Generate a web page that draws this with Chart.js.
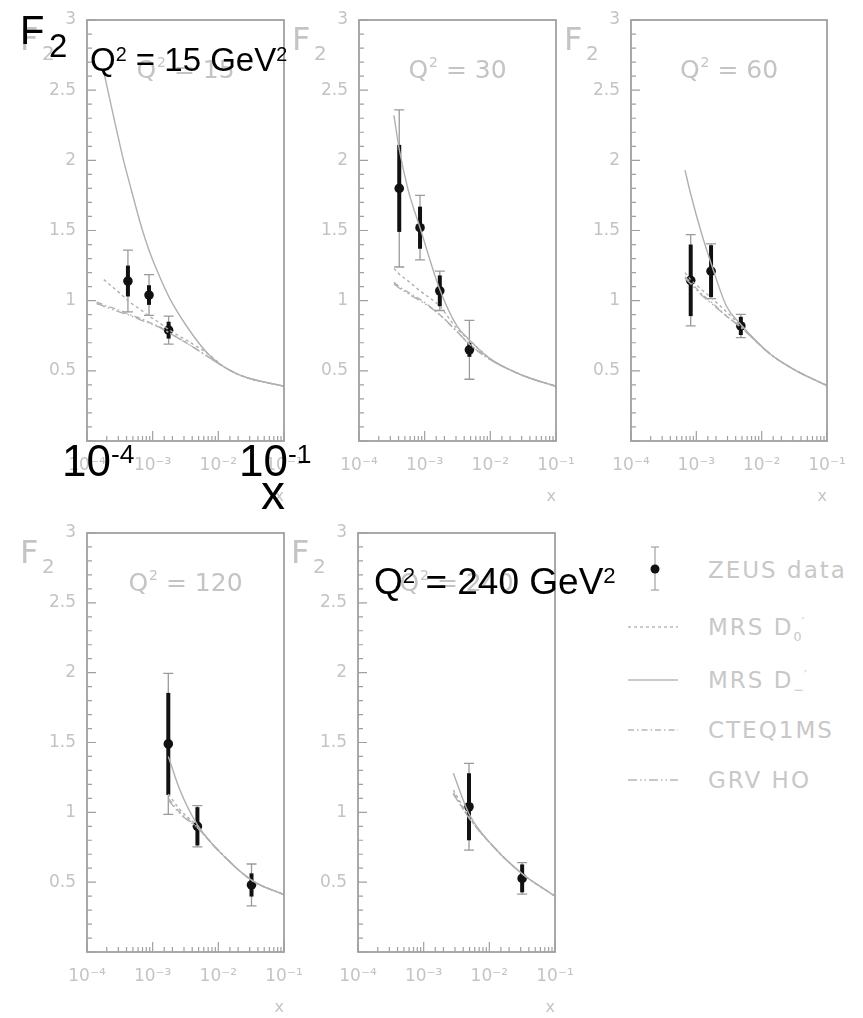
<!DOCTYPE html>
<html>
<head>
<meta charset="utf-8">
<script src="https://cdn.jsdelivr.net/npm/chart.js@4.4.0/dist/chart.umd.min.js"></script>
<style>
  body { margin: 0; width: 863px; height: 1018px; position: relative; overflow: hidden; background: #fff; }
  canvas { position: absolute; }
  .big { position: absolute; line-height: 1; color: #000; white-space: nowrap; font-family: "Liberation Sans", Arial, sans-serif; }
  .big .sup { font-size: 0.6em; position: relative; top: -0.5em; }
  .leg { position: absolute; left: 708px; line-height: 1; white-space: nowrap; color: #c8c8c8;
         font-family: "DejaVu Sans", sans-serif; font-size: 23px; letter-spacing: 2px; }
  .leg sub, .leg sup { font-size: 0.55em; letter-spacing: 0; }
</style>
</head>
<body>

<!-- key for the fits -->
<svg style="position:absolute;left:0;top:0" width="863" height="1018">
  <g stroke="#a8a8a8" stroke-width="1.3">
    <line x1="655" y1="547" x2="655" y2="590"/>
    <line x1="651" y1="547" x2="659" y2="547"/>
    <line x1="651" y1="590" x2="659" y2="590"/>
  </g>
  <circle cx="655" cy="569" r="4.5" fill="#111"/>
  <g stroke="#b8b8b8" stroke-width="1.5" fill="none">
    <line x1="628" y1="627" x2="678" y2="627" stroke-dasharray="3,3"/>
    <line x1="628" y1="680" x2="678" y2="680"/>
    <line x1="628" y1="730" x2="678" y2="730" stroke-dasharray="6,3,1.5,3"/>
    <line x1="628" y1="780" x2="678" y2="780" stroke-dasharray="9,3,1.5,3,1.5,3"/>
  </g>
</svg>
<div class="leg" style="top:559px">ZEUS data</div>
<div class="leg" style="top:616px">MRS D<sub>0</sub><sup>′</sup></div>
<div class="leg" style="top:669px">MRS D<sub>−</sub><sup>′</sup></div>
<div class="leg" style="top:719px">CTEQ1MS</div>
<div class="leg" style="top:769px">GRV HO</div>

<script>
// F2 against x in five Q2 bins, ZEUS points with fit curves

const Q2_BINS = [15, 30, 60, 120, 240];

// ZEUS points: x, F2, inner (stat) and outer (total) half errors
const x15 = [4.2e-4, 8.8e-4, 1.75e-3];
const f2_15 = [1.14, 1.04, 0.79];
const stat15 = [0.11, 0.07, 0.06];
const tot15 = [0.22, 0.145, 0.10];

const x30 = [4.1e-4, 8.5e-4, 1.7e-3, 4.8e-3];
const f2_30 = [1.80, 1.52, 1.07, 0.65];
const stat30 = [0.31, 0.15, 0.11, 0.05];
const tot30 = [0.56, 0.23, 0.14, 0.21];

const x60 = [8.2e-4, 1.68e-3, 4.8e-3];
const f2_60 = [1.145, 1.21, 0.82];
const stat60 = [0.255, 0.185, 0.065];
const tot60 = [0.325, 0.195, 0.083];

const x120 = [1.73e-3, 4.8e-3, 3.2e-2];
const f2_120 = [1.49, 0.90, 0.48];
const stat120 = [0.365, 0.137, 0.083];
const tot120 = [0.505, 0.148, 0.15];

const x240 = [4.9e-3, 3.16e-2];
const f2_240 = [1.04, 0.527];
const stat240 = [0.24, 0.10];
const tot240 = [0.31, 0.113];

// fit curves, sampled at the x values of each bin
const fitX15 = [1.4e-4, 1.8e-4, 3.6e-4, 4.2e-4, 6.8e-4, 8.8e-4, 1.2e-3, 1.8e-3, 3.5e-3, 7e-3, 1.3e-2, 2.4e-2, 1e-1];
const mrsD0_15 = [null, 1.15, 1.03, 1.0, 0.93, 0.89, 0.85, 0.79, 0.71, 0.62, 0.52, 0.46, 0.39];
const mrsDm_15 = [null, 2.63, 2.0, 1.88, 1.52, 1.36, 1.2, 1.02, 0.8, 0.62, 0.52, 0.46, 0.39];
const cteq_15 = [0.99, 0.97, 0.92, 0.905, 0.87, 0.845, 0.82, 0.77, 0.69, 0.60, 0.52, 0.46, 0.39];
const grv_15 = [0.98, 0.96, 0.91, 0.90, 0.86, 0.84, 0.815, 0.77, 0.69, 0.60, 0.52, 0.46, 0.39];

const fitX30 = [3.4e-4, 4.1e-4, 5.6e-4, 8.5e-4, 1.7e-3, 3.1e-3, 4.8e-3, 1e-2, 3.2e-2, 1e-1];
const mrsD0_30 = [1.23, 1.19, 1.14, 1.07, 0.96, 0.80, 0.72, 0.585, 0.465, 0.39];
const mrsDm_30 = [2.32, 2.08, 1.79, 1.52, 1.08, 0.82, 0.72, 0.585, 0.465, 0.39];
const cteq_30 = [1.13, 1.10, 1.06, 1.01, 0.90, 0.78, 0.69, 0.58, 0.465, 0.39];
const grv_30 = [1.12, 1.09, 1.05, 1.00, 0.90, 0.78, 0.69, 0.58, 0.465, 0.39];

const fitX60 = [6.7e-4, 8.2e-4, 1.2e-3, 1.7e-3, 2.9e-3, 4.8e-3, 1.35e-2, 3.4e-2, 1e-1];
const mrsD0_60 = [1.20, 1.15, 1.08, 1.02, 0.92, 0.82, 0.62, 0.50, 0.395];
const mrsDm_60 = [1.93, 1.76, 1.48, 1.26, 0.96, 0.83, 0.62, 0.50, 0.395];
const cteq_60 = [1.17, 1.13, 1.05, 0.99, 0.89, 0.81, 0.62, 0.50, 0.395];
const grv_60 = [1.16, 1.12, 1.04, 0.98, 0.89, 0.81, 0.62, 0.50, 0.395];

const fitX120 = [1.73e-3, 2.6e-3, 4.8e-3, 9.4e-3, 3.2e-2, 1e-1];
const mrsD0_120 = [1.13, 1.02, 0.90, 0.74, 0.515, 0.41];
const mrsDm_120 = [1.40, 1.16, 0.91, 0.74, 0.515, 0.41];
const cteq_120 = [1.10, 1.00, 0.89, 0.74, 0.515, 0.41];
const grv_120 = [1.09, 0.99, 0.89, 0.74, 0.515, 0.41];

const fitX240 = [2.83e-3, 4.9e-3, 1.29e-2, 3.16e-2, 1e-1];
const mrsD0_240 = [1.16, 0.97, 0.73, 0.56, 0.40];
const mrsDm_240 = [1.28, 0.99, 0.73, 0.56, 0.40];
const cteq_240 = [1.14, 0.96, 0.73, 0.56, 0.40];
const grv_240 = [1.13, 0.96, 0.73, 0.56, 0.40];

const FIT_NAMES = ["MRS D0'", "MRS D-'", "CTEQ1MS", "GRV HO"];
const FIT_DASH = [[3, 3], [], [6, 3, 1.5, 3], [9, 3, 1.5, 3, 1.5, 3]];

const FAINT = "#c4c4c4";
const FRAME = "#a0a0a0";
const CURVE = "#b0b0b0";
const FONT = '"DejaVu Sans", sans-serif';

Chart.defaults.font.family = FONT;

// frame box of each panel on the page: left, top, right, bottom
const panels = [
  { q2: Q2_BINS[0], frame: [87, 20, 284, 441], pts: [x15, f2_15, stat15, tot15], xs: fitX15, fits: [mrsD0_15, mrsDm_15, cteq_15, grv_15] },
  { q2: Q2_BINS[1], frame: [359, 20, 556, 441], pts: [x30, f2_30, stat30, tot30], xs: fitX30, fits: [mrsD0_30, mrsDm_30, cteq_30, grv_30] },
  { q2: Q2_BINS[2], frame: [631, 20, 827, 441], pts: [x60, f2_60, stat60, tot60], xs: fitX60, fits: [mrsD0_60, mrsDm_60, cteq_60, grv_60] },
  { q2: Q2_BINS[3], frame: [87, 533, 284, 952], pts: [x120, f2_120, stat120, tot120], xs: fitX120, fits: [mrsD0_120, mrsDm_120, cteq_120, grv_120] },
  { q2: Q2_BINS[4], frame: [358, 533, 555, 952], pts: [x240, f2_240, stat240, tot240], xs: fitX240, fits: [mrsD0_240, mrsDm_240, cteq_240, grv_240] },
];

const SUPER = { "-4": "10⁻⁴", "-3": "10⁻³", "-2": "10⁻²", "-1": "10⁻¹" };
const RIGHT_PAD = 26;

function isDecade(v) {
  const e = Math.log10(v);
  return Math.abs(e - Math.round(e)) < 1e-6;
}
function isHalf(v) {
  return Math.abs(v * 2 - Math.round(v * 2)) < 1e-6;
}

const panelDecor = {
  id: "panelDecor",
  beforeDatasetsDraw(chart, args, opts) {
    // Q2 = ... title inside the frame
    const { ctx, chartArea: a } = chart;
    ctx.save();
    ctx.fillStyle = FAINT;
    ctx.textAlign = "left";
    ctx.textBaseline = "alphabetic";
    const big = "25px " + FONT, small = "14px " + FONT;
    const rest = " = " + opts.q2;
    ctx.font = big;
    const wq = ctx.measureText("Q").width, wr = ctx.measureText(rest).width;
    ctx.font = small;
    const ws = ctx.measureText("2").width + 1;
    let x0 = (a.left + a.right) / 2 - (wq + ws + wr) / 2;
    const base = a.top + 58;
    ctx.font = big;
    ctx.fillText("Q", x0, base);
    ctx.font = small;
    ctx.fillText("2", x0 + wq + 1, base - 11);
    ctx.font = big;
    ctx.fillText(rest, x0 + wq + ws, base);
    ctx.restore();
  },
  beforeDatasetDraw(chart, args) {
    // error bars go under the ZEUS markers
    if (args.index !== chart.data.datasets.length - 1) return;
    const { ctx, scales: { x, y } } = chart;
    ctx.save();
    chart.data.datasets[args.index].data.forEach(p => {
      const px = x.getPixelForValue(p.x);
      const yt = y.getPixelForValue(p.y + p.tot);
      const yb = y.getPixelForValue(p.y - p.tot);
      ctx.strokeStyle = "#9a9a9a";
      ctx.lineWidth = 1.3;
      ctx.beginPath();
      ctx.moveTo(px, yt); ctx.lineTo(px, yb);
      ctx.moveTo(px - 5, yt); ctx.lineTo(px + 5, yt);
      ctx.moveTo(px - 5, yb); ctx.lineTo(px + 5, yb);
      ctx.stroke();
      ctx.strokeStyle = "#111";
      ctx.lineWidth = 4;
      ctx.beginPath();
      ctx.moveTo(px, y.getPixelForValue(p.y + p.stat));
      ctx.lineTo(px, y.getPixelForValue(p.y - p.stat));
      ctx.stroke();
    });
    ctx.restore();
  },
  afterDraw(chart) {
    // frame, inward ticks and the F2 axis label
    const { ctx, chartArea: a, scales: { x, y } } = chart;
    ctx.save();
    ctx.strokeStyle = FRAME;
    ctx.lineWidth = 1.8;
    ctx.strokeRect(a.left, a.top, a.right - a.left, a.bottom - a.top);
    ctx.lineWidth = 1.2;
    ctx.beginPath();
    y.ticks.forEach(t => {
      const py = y.getPixelForValue(t.value);
      ctx.moveTo(a.left, py);
      ctx.lineTo(a.left + (isHalf(t.value) ? 9 : 5), py);
    });
    x.ticks.forEach(t => {
      const px = x.getPixelForValue(t.value);
      ctx.moveTo(px, a.bottom);
      ctx.lineTo(px, a.bottom - (isDecade(t.value) ? 10 : 5));
    });
    ctx.stroke();
    ctx.fillStyle = FAINT;
    ctx.textAlign = "left";
    ctx.textBaseline = "alphabetic";
    ctx.font = "32px " + FONT;
    ctx.fillText("F", a.left - 67, a.top + 30);
    ctx.font = "20px " + FONT;
    ctx.fillText("2", a.left - 45, a.top + 40);
    ctx.restore();
  }
};

// keep the frame where it is: no extra room for overhanging labels
function fixSize(s, w, h) {
  if (w !== undefined) s.width = w;
  if (h !== undefined) s.height = h;
  s.paddingLeft = 0;
  s.paddingRight = 0;
  s.paddingTop = 0;
  s.paddingBottom = 0;
}

function makePanel(p) {
  const [L, T, R, B] = p.frame;
  const W = 87 + (R - L) + RIGHT_PAD, H = 20 + (B - T) + 75;
  const canvas = document.createElement("canvas");
  canvas.width = W;
  canvas.height = H;
  canvas.style.left = (L - 87) + "px";
  canvas.style.top = (T - 20) + "px";
  document.body.appendChild(canvas);

  const datasets = p.fits.map((vals, i) => ({
    label: FIT_NAMES[i],
    data: p.xs.map((xv, k) => ({ x: xv, y: vals[k] })).filter(d => d.y !== null),
    showLine: true,
    borderColor: CURVE,
    borderWidth: 1.4,
    borderDash: FIT_DASH[i],
    pointRadius: 0,
    cubicInterpolationMode: "monotone",
    fill: false
  }));
  const [px, pf, ps, pt] = p.pts;
  datasets.push({
    label: "ZEUS data",
    data: px.map((xv, k) => ({ x: xv, y: pf[k], stat: ps[k], tot: pt[k] })),
    showLine: false,
    pointRadius: 4.8,
    pointBackgroundColor: "#111",
    pointBorderWidth: 0
  });

  new Chart(canvas, {
    type: "scatter",
    data: { datasets },
    plugins: [panelDecor],
    options: {
      responsive: false,
      animation: false,
      events: [],
      layout: { padding: { left: 0, top: 20, right: RIGHT_PAD, bottom: 0 } },
      plugins: {
        legend: { display: false },
        tooltip: { enabled: false },
        panelDecor: { q2: p.q2 }
      },
      scales: {
        x: {
          type: "logarithmic",
          min: 1e-4,
          max: 1e-1,
          grid: { display: false, drawTicks: false },
          border: { display: false },
          ticks: {
            autoSkip: false,
            maxRotation: 0,
            padding: 14,
            color: FAINT,
            font: { size: 17 },
            callback: v => isDecade(v) ? SUPER[Math.round(Math.log10(v))] : ""
          },
          title: {
            display: true, text: "x", align: "end", color: FAINT,
            font: { size: 16 }, padding: { top: 0, bottom: 10 }
          },
          afterFit: s => fixSize(s, undefined, 75)
        },
        y: {
          min: 0,
          max: 3,
          grid: { display: false, drawTicks: false },
          border: { display: false },
          ticks: {
            stepSize: 0.1,
            autoSkip: false,
            padding: 11,
            color: FAINT,
            font: { size: 17 },
            callback: v => (v > 0 && isHalf(v)) ? (Number.isInteger(Math.round(v * 10) / 10) ? String(Math.round(v)) : v.toFixed(1)) : ""
          },
          afterFit: s => fixSize(s, 87, undefined)
        }
      }
    }
  });
}

panels.forEach(makePanel);
</script>

<!-- black annotations on top of the panels -->
<div class="big" style="left:20px;top:10px;font-size:40px">F</div>
<div class="big" style="left:49px;top:29px;font-size:33px">2</div>
<div class="big" style="left:90px;top:43px;font-size:33px">Q<span class="sup">2</span> = 15 GeV<span class="sup">2</span></div>
<div class="big" style="left:62px;top:439px;font-size:44px">10<span class="sup">-4</span></div>
<div class="big" style="left:239px;top:439px;font-size:44px">10<span class="sup">-1</span></div>
<div class="big" style="left:261px;top:469px;font-size:48px">x</div>
<div class="big" style="left:374px;top:563px;font-size:37px">Q<span class="sup">2</span> = 240 GeV<span class="sup">2</span></div>

</body>
</html>
